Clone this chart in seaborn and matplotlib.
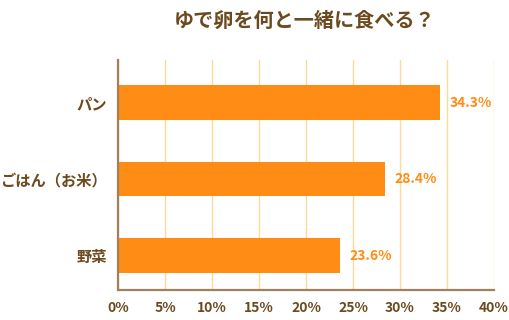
import matplotlib
matplotlib.use("Agg")
import matplotlib.pyplot as plt
import seaborn as sns
import pandas as pd

categories = ["パン", "ごはん（お米）", "野菜"]
values = [34.3, 28.4, 23.6]
xticks = [0, 5, 10, 15, 20, 25, 30, 35, 40]
xtick_labels = [f"{v}%" for v in xticks]
title = "ゆで卵を何と一緒に食べる？"

sns.set_style("white")
plt.rcParams['font.family'] = ['Noto Sans CJK JP', 'DejaVu Sans']

brown = "#6b4a1f"
orange = "#ff8c14"
grid_c = "#ffd89c"
spine_c = "#a08060"

df = pd.DataFrame({"cat": categories, "val": values})

fig = plt.figure(figsize=(5.1, 3.2), dpi=100)
ax = fig.add_axes([118/510, 30/320, (494-118)/510, 230/320])
sns.barplot(data=df, x="val", y="cat", color=orange, saturation=1, width=0.455,
            linewidth=0, edgecolor="none", ax=ax, zorder=3)
ax.set_xlim(0, 40)
ax.set_ylim(2.45, -0.556)
ax.set_xticks(xticks)
ax.set_xticklabels(xtick_labels)
ax.grid(axis="x", color=grid_c, linewidth=1, zorder=0)
ax.set_axisbelow(True)
for s in ["top", "right"]:
    ax.spines[s].set_visible(False)
for s in ["left", "bottom"]:
    ax.spines[s].set_color(spine_c)
    ax.spines[s].set_linewidth(1.6)
    ax.spines[s].set_zorder(5)
ax.tick_params(axis="both", length=0, pad=8, labelcolor=brown)
for lab in ax.get_xticklabels():
    lab.set_fontsize(10)
    lab.set_fontweight("bold")
for lab in ax.get_yticklabels():
    lab.set_fontsize(11)
    lab.set_fontweight("bold")
ax.set_xlabel("")
ax.set_ylabel("")
for i, v in enumerate(values):
    ax.annotate(f"{v}%", xy=(v, i), xytext=(7, 0), textcoords="offset points",
                va="center", ha="left", color=orange, fontsize=10, fontweight="bold")
fig.text(305/510, 1 - 20/320, title, ha="center", va="center", color=brown,
         fontsize=14.5, fontweight="bold")
fig.savefig("out.png", dpi=100)
